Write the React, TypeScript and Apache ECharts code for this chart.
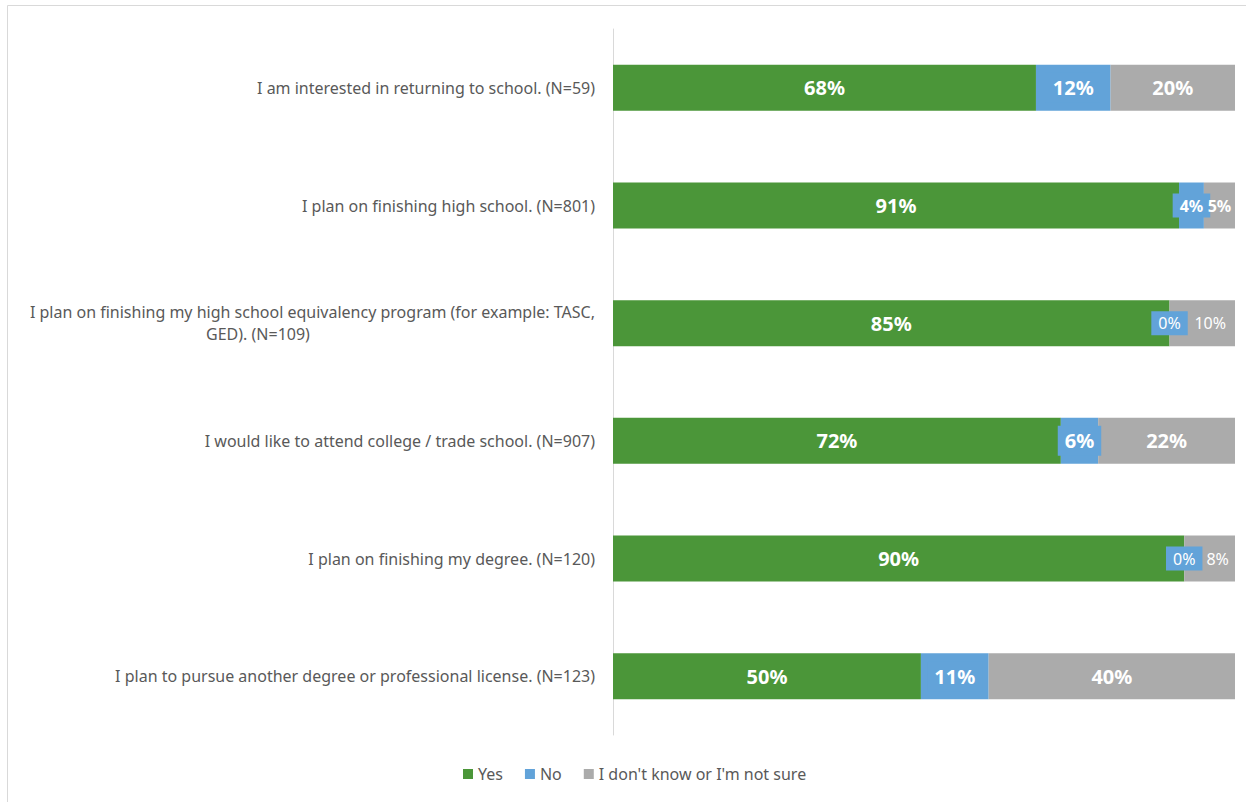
import React, { useEffect, useRef } from "react";
import * as echarts from "echarts";

const categories = [
  "I am interested in returning to school. (N=59)",
  "I plan on finishing high school. (N=801)",
  "I plan on finishing my high school equivalency program (for example: TASC,\nGED). (N=109)",
  "I would like to attend college / trade school. (N=907)",
  "I plan on finishing my degree. (N=120)",
  "I plan to pursue another degree or professional license. (N=123)",
];
const seriesNames = ["Yes", "No", "I don't know or I'm not sure"];
const yesValues = [68, 91, 85, 72, 90, 50];
const noValues = [12, 4, 0, 6, 0, 11];
const unsureValues = [20, 5, 10, 22, 8, 40];
const colors = ["#4b9639", "#62a3d9", "#ababab"];

const FONT = "'Noto Sans', 'Open Sans', sans-serif";

export default function App() {
  const ref = useRef<HTMLDivElement>(null);
  useEffect(() => {
    if (!ref.current) return;
    const chart = echarts.init(ref.current, null, { renderer: "svg" });
    const all = [yesValues, noValues, unsureValues];
    const sums = categories.map((_, i) => yesValues[i] + noValues[i] + unsureValues[i]);
    const series = all.map((vals, si) => ({
      name: seriesNames[si],
      type: "bar",
      stack: "total",
      barWidth: 46,
      itemStyle: { color: colors[si] },
      data: vals.map((v, i) => {
        const tight = noValues[i] === 0;
        const small = v <= 5 || (si === 2 && tight);
        const label: any = {
          show: true,
          position: "inside",
          color: "#ffffff",
          fontFamily: FONT,
          fontSize: small ? 16 : 20,
          fontWeight: small ? (v > 0 && v <= 5 ? "bold" : "normal") : "bold",
          formatter: () => v + "%",
        };
        if (si === 1) {
          label.backgroundColor = colors[1];
          label.padding = small ? [4, 7] : [5, 7];
        }
        if (si === 2 && tight) {
          label.offset = [8, 0];
        }
        return { value: v / sums[i], label };
      }),
    }));
    chart.setOption({
      animation: false,
      textStyle: { fontFamily: FONT },
      graphic: [
        {
          type: "rect",
          shape: { x: 7.5, y: 5.5, width: 1260, height: 820 },
          style: { fill: "none", stroke: "#d9d9d9", lineWidth: 1 },
          silent: true,
        },
      ],
      grid: { left: 613, right: 11, top: 29, bottom: 67, outerBoundsMode: "none", containLabel: false },
      xAxis: {
        type: "value",
        min: 0,
        max: 1,
        show: false,
      },
      yAxis: {
        type: "category",
        inverse: true,
        data: categories,
        axisLine: { show: true, lineStyle: { color: "#d9d9d9", width: 1 } },
        axisTick: { show: false },
        axisLabel: {
          margin: 18,
          color: "#595959",
          fontSize: 16,
          fontFamily: FONT,
          lineHeight: 22,
          formatter: (val: string) => {
            const parts = val.split("\n");
            if (parts.length < 2) return val;
            return parts[0] + "\n{c|" + parts[1] + "}";
          },
          rich: {
            c: {
              width: 674,
              align: "center",
              color: "#595959",
              fontSize: 16,
              fontFamily: FONT,
              lineHeight: 22,
            },
          },
        },
      },
      legend: {
        left: 458,
        top: 761,
        itemWidth: 10,
        itemHeight: 10,
        itemGap: 22,
        icon: "rect",
        textStyle: { color: "#595959", fontSize: 16, fontFamily: FONT },
        data: seriesNames,
      },
      series,
    });
    return () => chart.dispose();
  }, []);
  return (
    <div
      ref={ref}
      style={{ position: "fixed", left: 0, top: 0, width: 1246, height: 802, background: "#fff" }}
    />
  );
}
